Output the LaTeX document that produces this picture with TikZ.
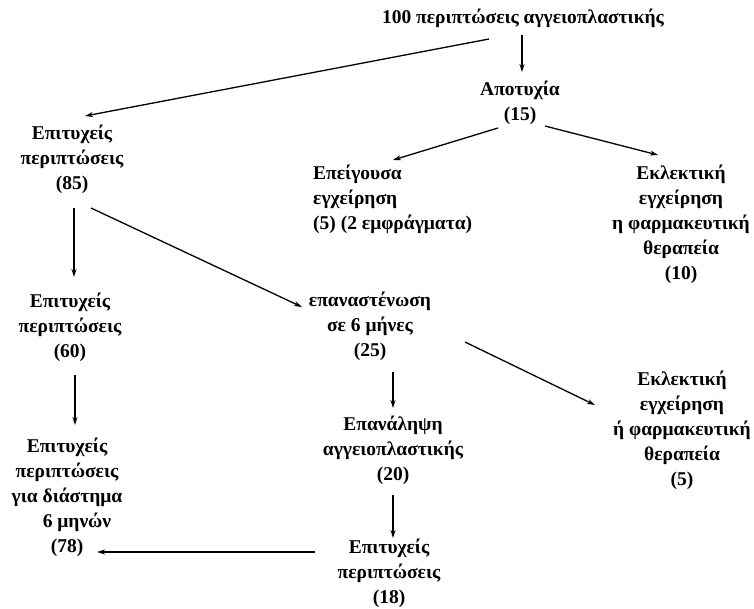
\documentclass[tikz,border=0pt]{standalone}
\usepackage{fontspec}
\setmainfont{Liberation Serif}
\usetikzlibrary{arrows.meta}
\begin{document}
\begin{tikzpicture}[x=1pt,y=-1pt,
  lbl/.style={align=center, inner sep=0pt, font=\fontsize{19.5}{25}\selectfont\bfseries},
  arr/.style={-{Stealth[length=8pt,width=5pt]}, line width=1.3pt}]
\fill[white] (0,0) rectangle (754,608);
\useasboundingbox (0,0) rectangle (754,608);

\node[lbl] (top) at (523,18) {100 περιπτώσεις αγγειοπλαστικής};
\node[lbl] (fail) at (520,103) {Αποτυχία\\(15)};
\node[lbl] (s85) at (72,159) {Επιτυχείς\\περιπτώσεις\\(85)};
\node[lbl, align=left, anchor=west] (urg) at (313,199) {Επείγουσα\\εγχείρηση\\(5) (2 εμφράγματα)};
\node[lbl] (el1) at (681,224) {Εκλεκτική\\εγχείρηση\\η φαρμακευτική\\θεραπεία\\(10)};
\node[lbl] (s60) at (70,327) {Επιτυχείς\\περιπτώσεις\\(60)};
\node[lbl] (rest) at (370,326) {επαναστένωση\\σε 6 μήνες\\(25)};
\node[lbl] (el2) at (682,430) {Εκλεκτική\\εγχείρηση\\ή φαρμακευτική\\θεραπεία\\(5)};
\node[lbl] (rep) at (393,450) {Επανάληψη\\αγγειοπλαστικής\\(20)};
\node[lbl] (s78) at (67,497) {Επιτυχείς\\περιπτώσεις\\για διάστημα\\\hspace*{20pt}6 μηνών\\(78)};
\node[lbl] (s18) at (389,573) {Επιτυχείς\\περιπτώσεις\\(18)};

\draw[arr] ([shift={(-34,21)}]top.center) -- ([shift={(13,-43)}]s85.center);
\draw[arr] ([shift={(-1,17)}]top.center) -- ([shift={(2,-31)}]fail.center);
\draw[arr] ([shift={(-22,25)}]fail.center) -- ([shift={(80,-39)}]urg.west);
\draw[arr] ([shift={(25,23)}]fail.center) -- ([shift={(-23,-69)}]el1.center);
\draw[arr] ([shift={(2,49)}]s85.center) -- ([shift={(4,-50)}]s60.center);
\draw[arr] ([shift={(19,49)}]s85.center) -- ([shift={(-68,-19)}]rest.center);
\draw[arr] ([shift={(95,16)}]rest.center) -- ([shift={(-87,-25)}]el2.center);
\draw[arr] ([shift={(23,46)}]rest.center) -- ([shift={(0,-42)}]rep.center);
\draw[arr] ([shift={(5,48)}]s60.center) -- ([shift={(8,-72)}]s78.center);
\draw[arr] ([shift={(0,45)}]rep.center) -- ([shift={(4,-35)}]s18.center);
\draw[arr] ([shift={(-74,-21)}]s18.center) -- ([shift={(30,55)}]s78.center);
\end{tikzpicture}
\end{document}
